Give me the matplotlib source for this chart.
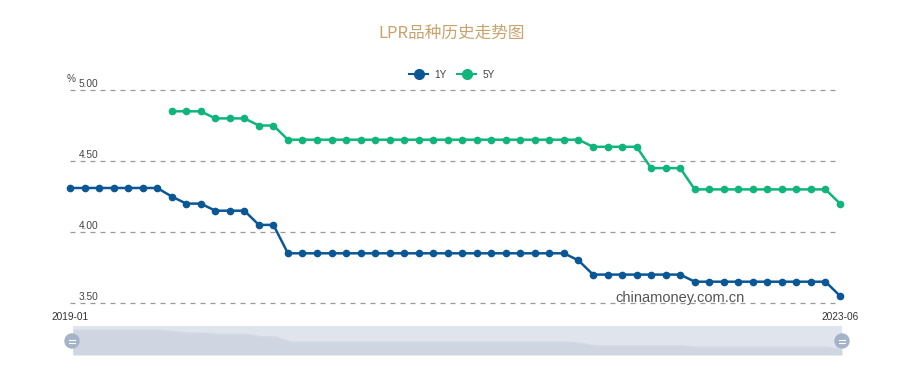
import numpy as np
import matplotlib.pyplot as plt
from matplotlib.patches import Rectangle, Circle
from matplotlib.lines import Line2D

plt.rcParams['font.family'] = ['Liberation Sans', 'Noto Sans CJK SC', 'DejaVu Sans']

# monthly LPR, 2019-01 .. 2023-06
months = ['2019-01', '2023-06']
lpr_1y = [4.31] * 7 + [4.25, 4.20, 4.20, 4.15, 4.15, 4.15, 4.05, 4.05] \
    + [3.85] * 20 + [3.80] + [3.70] * 7 + [3.65] * 10 + [3.55]
lpr_5y = [np.nan] * 7 + [4.85, 4.85, 4.85, 4.80, 4.80, 4.80, 4.75, 4.75] \
    + [4.65] * 21 + [4.60] * 4 + [4.45] * 3 + [4.30] * 10 + [4.20]
yticks = [3.50, 4.00, 4.50, 5.00]

c1 = '#0b5796'
c5 = '#0fb57a'
x = np.arange(len(lpr_1y))

W, H = 904, 371
fig = plt.figure(figsize=(W / 100, H / 100), dpi=100)

ax = fig.add_axes([70 / W, 68 / H, 770 / W, 213 / H])
ax.set_xlim(0, len(x) - 1)
ax.set_ylim(3.5, 5.0)
for t in yticks:
    ax.axhline(t, color='#9a9a9a', lw=0.9, ls=(0, (4, 4)), zorder=1, clip_on=False)
    ax.text(0.6, t + 0.01, '%.2f' % t, fontsize=7.3, color='#444444',
            ha='left', va='bottom')
ax.text(-0.2, 5.045, '%', fontsize=7.3, color='#444444', ha='left', va='bottom')

ax.plot(x, lpr_1y, color=c1, lw=1.8, marker='o', ms=4.5, clip_on=False, zorder=3)
ax.plot(x, lpr_5y, color=c5, lw=1.8, marker='o', ms=4.5, clip_on=False, zorder=3)
for s in ax.spines.values():
    s.set_visible(False)
ax.set_xticks([])
ax.set_yticks([])

ax.text(0, 3.44, months[0], fontsize=7.3, color='#333333', ha='center', va='top')
ax.text(len(x) - 1, 3.44, months[1], fontsize=7.3, color='#333333', ha='center', va='top')
ax.text(42, 3.535, 'chinamoney.com.cn', fontsize=10.5, color='#555555', ha='center', va='center')

fig.text(0.5, 1 - 33 / H, 'LPR品种历史走势图', fontsize=12, color='#c9a36c', ha='center', va='center',
         family='Noto Sans CJK SC')
handles = [Line2D([], [], color=c1, lw=1.5, marker='o', ms=7, label='1Y'),
           Line2D([], [], color=c5, lw=1.5, marker='o', ms=7, label='5Y')]
fig.legend(handles=handles, loc='center', bbox_to_anchor=(452 / W, 1 - 75 / H), ncol=2,
           frameon=False, fontsize=7.3, handlelength=1.9, columnspacing=1.0,
           handletextpad=0.6, labelcolor='#444444')

# data zoom slider
sl = fig.add_axes([73 / W, 16 / H, 769 / W, 29 / H])
sl.set_xlim(0, len(x) - 1)
sl.set_ylim(3.34, 4.465)
sl.add_patch(Rectangle((0, 3.34), len(x) - 1, 1.2, color='#dfe4ed', zorder=0))
sl.fill_between(x, 3.34, lpr_1y, color='#cfd6e1', lw=0, zorder=1)
sl.plot(x, lpr_1y, color='#d3d9e3', lw=0.8, zorder=2)
sl.axis('off')
for hx in (72, 842):
    fig.patches.append(Circle((hx, 371 - 341), 7, transform=None, color='#a5b3c8', zorder=5))
    for dy in (-1.5, 1.5):
        fig.add_artist(plt.Line2D([hx - 3, hx + 3], [30 + dy, 30 + dy], transform=None,
                                  color='white', lw=0.8, zorder=6))

fig.savefig('out.png', dpi=100)
